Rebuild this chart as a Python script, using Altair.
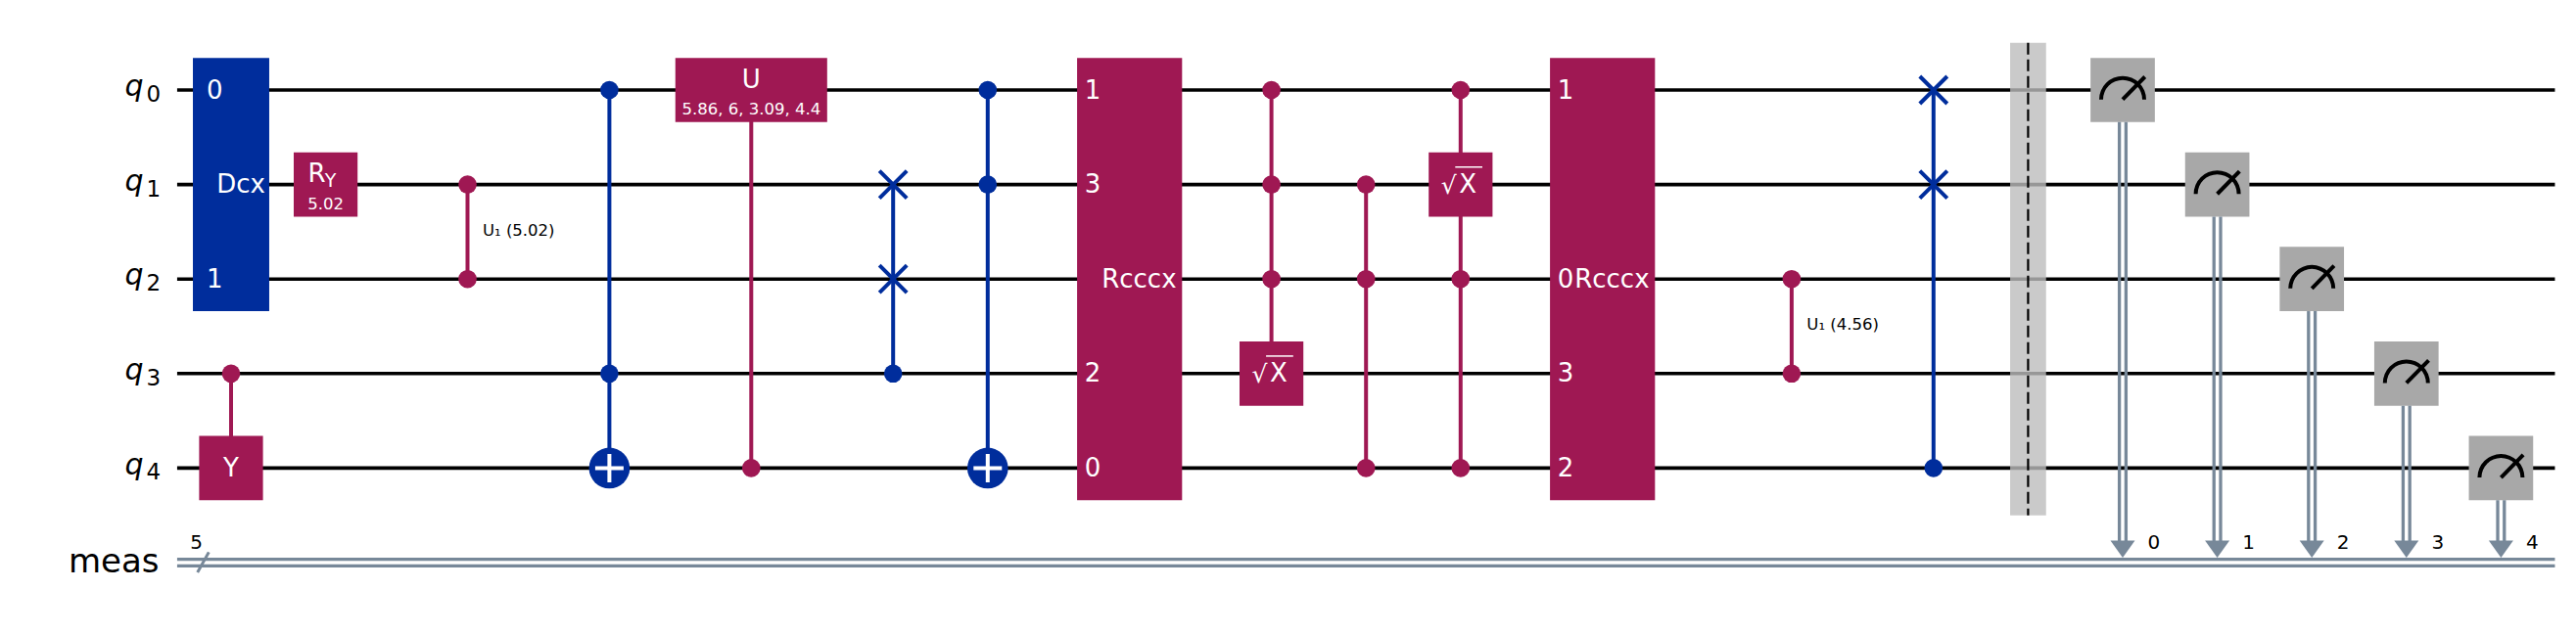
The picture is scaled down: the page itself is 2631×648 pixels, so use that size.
import altair as alt
import pandas as pd

BLUE, MAGENTA = "#002D9C", "#9F1853"
MEASURE_GRAY, BARRIER_GRAY, CLASSICAL = "#A8A8A8", "#BDBDBD", "#778899"
FONT = "DejaVu Sans"

# circuit layout: columns are layer positions in gate units, rows are qubits (5 = classical register)
qubit_rows = [0, 1, 2, 3, 4]
creg_row = 5
creg_size = "5"
wire_span = [-0.57, 24.57]

# control dots
dot_col = [0, 2.5, 2.5, 4, 4, 5.5, 7, 8, 8, 11, 11, 11, 12, 12, 12, 13, 13, 13, 16.5, 16.5, 18]
dot_row = [3, 1, 2, 0, 3, 4, 3, 0, 1, 0, 1, 2, 1, 2, 4, 0, 2, 4, 2, 3, 4]
dot_fam = ["m", "m", "m", "b", "b", "m", "b", "b", "b", "m", "m", "m",
           "m", "m", "m", "m", "m", "m", "m", "m", "b"]

# vertical connectors of multi-qubit gates
link_col = [0, 2.5, 4, 5.5, 7, 8, 11, 12, 13, 16.5, 18]
link_top = [3, 1, 0, 0, 1, 0, 0, 1, 0, 2, 0]
link_bot = [4, 2, 4, 4, 3, 4, 3, 4, 4, 3, 4]
link_fam = ["m", "m", "b", "m", "b", "b", "m", "m", "m", "m", "b"]

# boxed gates
box_name = ["Dcx", "Y", "RY", "U", "Rcccx", "sx", "sx", "Rcccx"]
box_col = [0, 0, 1, 5.5, 9.5, 11, 13, 14.5]
box_top = [0, 4, 1, 0, 0, 3, 1, 0]
box_bot = [2, 4, 1, 0, 4, 3, 1, 4]
box_units = [0.807, 0.675, 0.675, 1.605, 1.11, 0.675, 0.675, 1.11]
box_fam = ["b", "m", "m", "m", "m", "m", "m", "m"]

# gate parameters shown under the name
param_col = [1, 5.5]
param_row = [1, 0]
param_text = ["5.02", "5.86, 6, 3.09, 4.4"]

# wire-order numbers written inside the wide boxes
num_col = [0, 0, 9.5, 9.5, 9.5, 9.5, 14.5, 14.5, 14.5, 14.5]
num_row = [0, 2, 0, 1, 3, 4, 0, 2, 3, 4]
num_text = ["0", "1", "1", "3", "2", "0", "1", "0", "3", "2"]

# controlled-phase labels
cp_col = [2.5, 16.5]
cp_row = [1.5, 2.5]
cp_text = ["U\u2081 (5.02)", "U\u2081 (4.56)"]

target_col = [4, 8]
target_row = [4, 4]

swap_col = [7, 7, 18, 18]
swap_row = [1, 2, 0, 1]

barrier_col = 19

meas_col = [20, 21, 22, 23, 24]
meas_row = [0, 1, 2, 3, 4]
meas_bit = ["0", "1", "2", "3", "4"]

fam_scale = alt.Scale(domain=["b", "m"], range=[BLUE, MAGENTA])
xs = alt.Scale(domain=[-2.3602, 24.7101], nice=False, zero=False)
ys = alt.Scale(domain=[-0.8696, 5.6729], nice=False, zero=False, reverse=True)
HALF = 0.34
GATE_FS = 26


def place(chart, x="x", y="y", x2=None, y2=None, **extra):
    enc = dict(x=alt.X(f"{x}:Q", scale=xs, axis=None),
               y=alt.Y(f"{y}:Q", scale=ys, axis=None))
    if x2:
        enc["x2"] = alt.X2(f"{x2}:Q")
    if y2:
        enc["y2"] = alt.Y2(f"{y2}:Q")
    enc.update(extra)
    return chart.encode(**enc)


def text_layer(df, size, color="white", align="center", italic=False):
    kw = dict(font=FONT, fontSize=size, color=color, align=align, baseline="alphabetic")
    if italic:
        kw["fontStyle"] = "italic"
    return place(alt.Chart(df).mark_text(**kw), text="t:N")


fam = alt.Color("fam:N", scale=fam_scale, legend=None)
layers = []

# quantum and classical wires
wires = pd.DataFrame({"y": qubit_rows, "x": wire_span[0], "x2": wire_span[1]})
layers.append(place(alt.Chart(wires).mark_rule(color="black", strokeWidth=3.6), x2="x2"))
creg = pd.DataFrame({"y": [creg_row - 0.034, creg_row + 0.034], "x": wire_span[0], "x2": wire_span[1]})
layers.append(place(alt.Chart(creg).mark_rule(color=CLASSICAL, strokeWidth=3.3), x2="x2"))
slash = pd.DataFrame({"x": [-0.355], "x2": [-0.235], "y": [creg_row + 0.103], "y2": [creg_row - 0.11]})
layers.append(place(alt.Chart(slash).mark_rule(color=CLASSICAL, strokeWidth=3), x2="x2", y2="y2"))

# barrier
bar = pd.DataFrame({"x": [barrier_col - 0.19], "x2": [barrier_col + 0.19],
                    "y": [min(qubit_rows) - 0.5], "y2": [max(qubit_rows) + 0.5], "c": [barrier_col]})
layers.append(place(alt.Chart(bar).mark_rect(color=BARRIER_GRAY, opacity=0.8), x2="x2", y2="y2"))
layers.append(place(alt.Chart(bar).mark_rule(color="black", strokeWidth=2.2, strokeDash=[12, 5]),
                    x="c", y2="y2"))

# connectors
links = pd.DataFrame({"x": link_col, "y": link_top, "y2": link_bot, "fam": link_fam})
layers.append(place(alt.Chart(links).mark_rule(strokeWidth=4), y2="y2", color=fam))

# boxes
boxes = pd.DataFrame({"c": box_col, "w": box_units, "top": box_top, "bot": box_bot, "fam": box_fam})
boxes["x"] = boxes.c - boxes.w / 2
boxes["x2"] = boxes.c + boxes.w / 2
boxes["y"] = boxes.top - HALF
boxes["y2"] = boxes.bot + HALF
layers.append(place(alt.Chart(boxes).mark_rect(), x2="x2", y2="y2", color=fam))

# control dots, targets, swaps
dots = pd.DataFrame({"x": dot_col, "y": dot_row, "fam": dot_fam})
layers.append(place(alt.Chart(dots).mark_circle(size=346, opacity=1), color=fam))
targets = pd.DataFrame({"x": target_col, "y": target_row})
layers.append(place(alt.Chart(targets).mark_circle(size=1735, opacity=1, color=BLUE)))
layers.append(place(alt.Chart(targets).mark_point(shape="M-1,0L1,0M0,-1L0,1", size=841, filled=False,
                                                    color="white", strokeWidth=4, opacity=1)))
swaps = pd.DataFrame({"x": swap_col, "y": swap_row})
layers.append(place(alt.Chart(swaps).mark_point(shape="M-1,-1L1,1M-1,1L1,-1", size=784, filled=False,
                                                  color=BLUE, strokeWidth=4, opacity=1)))

# gate names
names = pd.DataFrame({"n": box_name, "c": box_col, "top": box_top, "bot": box_bot, "w": box_units})
names["mid"] = (names.top + names.bot) / 2
plain = names[names.n.isin(["Dcx", "Y", "Rcccx"])].copy()
plain["x"] = plain.c + plain.n.map({"Dcx": 0.105, "Y": 0.0, "Rcccx": 0.1})
plain["y"] = plain.mid + 0.09
plain["t"] = plain.n
layers.append(text_layer(plain, GATE_FS))
ugate = names[names.n == "U"].copy()
ugate["x"], ugate["y"], ugate["t"] = ugate.c, ugate.mid - 0.02, "U"
layers.append(text_layer(ugate, GATE_FS))
ry = names[names.n == "RY"].copy()
ry_r = ry.assign(x=ry.c, y=ry.mid - 0.03, t="R")
ry_y = ry.assign(x=ry.c - 0.01, y=ry.mid + 0.02, t="Y")
layers.append(text_layer(ry_r, GATE_FS, align="right"))
layers.append(text_layer(ry_y, 19, align="left"))
sx = names[names.n == "sx"].copy()
sx_x = sx.assign(x=sx.c + 0.076, y=sx.mid + 0.09, t="X")
sx_r = sx.assign(x=sx.c - 0.125, y=sx.mid + 0.1, t="\u221a")
sx_bar = sx.assign(x=sx.c - 0.057, x2=sx.c + 0.23, y=sx.mid - 0.185)
layers.append(text_layer(sx_x, GATE_FS))
layers.append(text_layer(sx_r, 25))
layers.append(place(alt.Chart(sx_bar).mark_rule(color="white", strokeWidth=1.5), x2="x2"))

params = pd.DataFrame({"x": param_col, "y": [r + 0.262 for r in param_row], "t": param_text})
layers.append(text_layer(params, 16.5))

nums = pd.DataFrame({"c": num_col, "row": num_row, "t": num_text})
widths = dict(zip(box_col, box_units))
nums["x"] = nums.c - nums.c.map(widths) / 2 + 0.08
nums["y"] = nums.row + 0.09
layers.append(text_layer(nums, GATE_FS, align="left"))

cps = pd.DataFrame({"x": [c + 0.16 for c in cp_col], "y": [r + 0.04 for r in cp_row], "t": cp_text})
layers.append(text_layer(cps, 16.5, color="black", align="left"))

# measurements
meas = pd.DataFrame({"c": meas_col, "row": meas_row, "bit": meas_bit})
mbox = meas.assign(x=meas.c - HALF, x2=meas.c + HALF, y=meas.row - HALF, y2=meas.row + HALF)
layers.append(place(alt.Chart(mbox).mark_rect(color=MEASURE_GRAY), x2="x2", y2="y2"))
arc = meas.assign(x=meas.c, y=meas.row + 0.1)
layers.append(place(alt.Chart(arc).mark_arc(theta=4.7124, theta2=7.854, radius=24, radius2=20,
                                            color="black")))
needle = meas.assign(x=meas.c, y=meas.row + 0.1, x2=meas.c + 0.235, y2=meas.row - 0.14)
layers.append(place(alt.Chart(needle).mark_rule(color="black", strokeWidth=4), x2="x2", y2="y2"))
for side in (-0.035, 0.035):
    shaft = meas.assign(x=meas.c + side, y=meas.row + HALF, y2=creg_row - 0.2)
    layers.append(place(alt.Chart(shaft).mark_rule(color=CLASSICAL, strokeWidth=3.3), y2="y2"))
tips = meas.assign(x=meas.c, y=creg_row - 0.142)
layers.append(place(alt.Chart(tips).mark_point(shape="M-1,-0.7L1,-0.7L0,0.7Z", size=625, filled=True,
                                               color=CLASSICAL, opacity=1, strokeWidth=0)))
bits = meas.assign(x=meas.c + 0.265, y=creg_row - 0.148, t=meas.bit)
layers.append(text_layer(bits, 20, color="black", align="left"))

# register labels
qlab = pd.DataFrame({"x": -0.925, "y": [r + 0.065 for r in qubit_rows], "t": "q"})
qsub = pd.DataFrame({"x": -0.745, "y": [r + 0.125 for r in qubit_rows], "t": [str(r) for r in qubit_rows]})
layers.append(text_layer(qlab, 30, color="black", align="right", italic=True))
layers.append(text_layer(qsub, 23, color="black", align="right"))
clab = pd.DataFrame({"x": [-0.76], "y": [creg_row + 0.104], "t": ["meas"]})
layers.append(text_layer(clab, 34, color="black", align="right"))
csize = pd.DataFrame({"x": [-0.367], "y": [creg_row - 0.148], "t": [creg_size]})
layers.append(text_layer(csize, 20, color="black"))

chart = alt.layer(*layers).properties(
    width=2615, height=632, padding=0, autosize=alt.AutoSizeParams(type="none")
).configure_view(stroke=None)

chart.save("out.html", embed_options={"renderer": "svg", "actions": False})
